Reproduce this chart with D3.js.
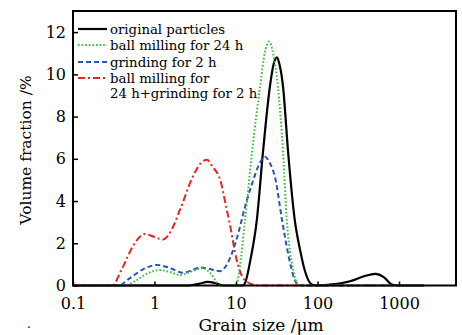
<!DOCTYPE html>
<html><head><meta charset="utf-8">
<script src="https://cdn.jsdelivr.net/npm/d3@7"></script>
<style>body{margin:0;background:#fff}svg{display:block}</style>
</head><body>
<svg id="c" width="462" height="335"></svg>
<script>
// data: grain size (µm) and volume fraction (%)
const xTicks = [0.1, 1, 10, 100, 1000];
const xTickLabels = ["0.1", "1", "10", "100", "1000"];
const yTicks = [0, 2, 4, 6, 8, 10, 12];
const seriesNames = ["original particles", "ball milling for 24 h", "grinding for 2 h", "ball milling for\n24 h+grinding for 2 h"];

const original = [[0.1,0],[2.5,0],[3.5,0.08],[4.5,0.17],[5.5,0.12],[7,0],[12,0],[13,0.15],[15,1.2],[18,3.1],[21.4,6.3],[26,9.4],[29,10.5],[31.8,10.8],[34,10.5],[37.8,9.4],[43.6,6.3],[52.6,3.1],[61,1.7],[70,0.7],[85,0.05],[100,0],[150,0.05],[250,0.2],[380,0.45],[507,0.55],[650,0.4],[815,0.05],[1000,0],[2000,0]];
const ballMill = [[0.1,0],[0.42,0],[0.6,0.25],[0.8,0.55],[1.17,0.73],[1.5,0.65],[2.06,0.5],[3,0.7],[3.9,0.83],[4.8,0.6],[6,0.1],[6.5,0],[9.5,0],[10.2,0.1],[12.9,3.1],[15.7,6.3],[19.7,9.4],[22.5,11],[25.4,11.55],[28.5,11],[32.7,9.4],[37.8,6.3],[42,3.1],[50,0.8],[57.5,0.05],[65,0],[2000,0]];
const grinding = [[0.1,0],[0.36,0],[0.5,0.35],[0.75,0.8],[1.07,0.97],[1.5,0.85],[2.24,0.6],[3,0.75],[3.6,0.85],[4.5,0.8],[6.3,0.68],[8,1.1],[10,2.1],[13.6,4.05],[16,4.9],[19,5.7],[22.7,6.1],[26,5.8],[30.2,5.1],[36.7,3.1],[43.6,1.5],[52.6,0.25],[60,0],[2000,0]];
const combined = [[0.1,0],[0.3,0],[0.4,0.8],[0.55,1.9],[0.76,2.44],[1,2.3],[1.27,2.18],[1.6,2.6],[2.06,3.6],[2.96,5.16],[3.7,5.8],[4.4,5.95],[5.2,5.6],[6.4,5.0],[7.5,3.8],[8.4,2.9],[10.2,1.2],[12.5,0.3],[16,0.05],[18,0],[2000,0]];

const svg = d3.select("#c");
const FONT = "DejaVu Serif, serif";
const L = 73, R = 456, T = 11, B = 285.5;
const x = d3.scaleLog().domain([0.1, 5000]).range([L, R]);
const y = d3.scaleLinear().domain([0, 13]).range([B, T]);

const styles = [
  {data: original, color: "#000000", dash: null, w: 2.2},
  {data: ballMill, color: "#3dbb3d", dash: "1.6,2", w: 2},
  {data: grinding, color: "#2656b8", dash: "5,3", w: 2},
  {data: combined, color: "#ee2222", dash: "7,3,2,3", w: 2}
];

const line = d3.line().x(d => x(d[0])).y(d => y(d[1])).curve(d3.curveMonotoneX);
const plot = svg.append("g");
[styles[0], styles[3], styles[2], styles[1]].forEach(s => {
  plot.append("path").attr("d", line(s.data)).attr("fill", "none")
    .attr("stroke", s.color).attr("stroke-width", s.w)
    .attr("stroke-dasharray", s.dash).attr("stroke-linejoin", "round");
});

// axes
const xAxis = d3.axisBottom(x).tickValues(xTicks).tickFormat((d, i) => xTickLabels[i]).tickSizeInner(-4).tickSizeOuter(0).tickPadding(12);
const gx = svg.append("g").attr("transform", `translate(0,${B})`).call(xAxis);
gx.select(".domain").remove();
gx.selectAll("line").attr("stroke", "#000").attr("stroke-width", 1.5);
gx.selectAll("text").attr("font-family", FONT).attr("font-size", 16).attr("fill", "#000");

const yAxis = d3.axisLeft(y).tickValues(yTicks).tickSizeInner(-5).tickSizeOuter(0).tickPadding(7);
const gy = svg.append("g").attr("transform", `translate(${L},0)`).call(yAxis);
gy.select(".domain").remove();
gy.selectAll("line").attr("stroke", "#000").attr("stroke-width", 1.5);
gy.selectAll("text").attr("font-family", FONT).attr("font-size", 16).attr("fill", "#000");

svg.append("rect").attr("x", L).attr("y", T).attr("width", R - L).attr("height", B - T)
  .attr("fill", "none").attr("stroke", "#000").attr("stroke-width", 2);

svg.append("text").attr("x", 261).attr("y", 331).attr("text-anchor", "middle")
  .attr("font-family", FONT).attr("font-size", 17).text("Grain size /μm");
svg.append("text").attr("transform", "translate(31,150) rotate(-90)").attr("text-anchor", "middle")
  .attr("font-family", FONT).attr("font-size", 15.5).text("Volume fraction /%");
svg.append("text").attr("x", 27).attr("y", 328).attr("font-family", FONT).attr("font-size", 12).text(".");

// legend
const rowsY = [29, 45, 62, 78];
const leg = svg.append("g");
styles.forEach((s, i) => {
  leg.append("line").attr("x1", 78).attr("x2", 107).attr("y1", rowsY[i]).attr("y2", rowsY[i])
    .attr("stroke", s.color).attr("stroke-width", s.w).attr("stroke-dasharray", s.dash);
  const lines = seriesNames[i].split("\n");
  lines.forEach((t, j) => {
    leg.append("text").attr("x", 110).attr("y", rowsY[i] + 4.5 + j * 15.5)
      .attr("font-family", FONT).attr("font-size", 13.3).attr("fill", "#000").text(t);
  });
});
</script>
</body></html>
